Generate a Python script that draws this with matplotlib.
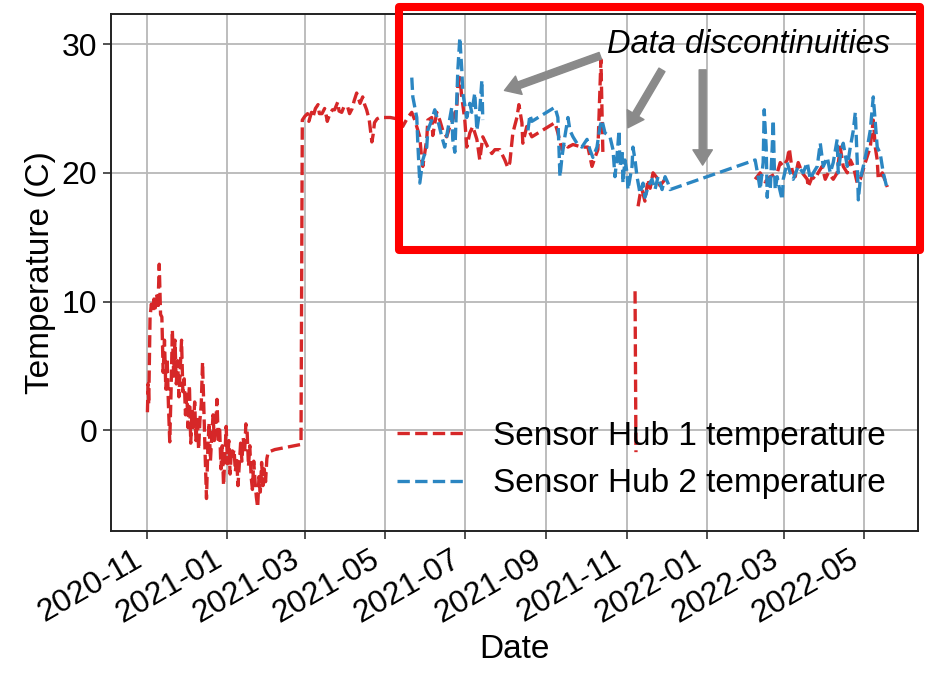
import numpy as np
import pandas as pd
import matplotlib
matplotlib.use("Agg")
import matplotlib.pyplot as plt
import matplotlib.dates as mdates
from matplotlib.patches import Rectangle

plt.rcParams['font.family'] = ['Liberation Sans', 'DejaVu Sans']

start = pd.Timestamp("2020-11-01")
nan = np.nan

# Sensor Hub 1: days since 2020-11-01, temperature in C (nan = logging gap)
hub1_day = [0, 0.5, 1, 2, 3, 4, 5, 6, 7, 8, 9, 10, 11, 12, 13, 14, 15, 16, 17, 18,
            19, 20, 21, 22, 23, 24, 25, 26, 27, 28, 29, 30, 31, 32, 33, 34, 35, 36, 37, 38,
            39, 40, 41, 42, 43, 44, 45, 46, 47, 48, 49, 50, 51, 52, 53, 54, 55, 56, 57, 58,
            59, 60, 61, 62, 63, 64, 65, 66, 67, 68, 69, 70, 71, 72, 73, 74, 75, 76, 77, 78,
            79, 80, 81, 82, 83, 84, 85, 86, 87, 88, 89, 90, 91, 92, 97, 117,
            118, 120, 122, 123, 125, 126, 128, 130, 131, 133, 135, 136.5, 137, 139, 141, 142.6,
            145, 146, 148, 150, 152.6, 154, 156, 157.5, 159.4, 161, 162, 164, 165.5, 167, 169,
            171, 172, 173, 175, 177, 185, 190,
            194.5, 198.3, 201.4, 203.7, 207.5, 209, 209.8, 212.8, 213.6, 216.6, 217.4, 220.4,
            222.7, 225, 228, 230.4, 232.6, 235.7, 236.5, 238, 239.5, 241.8, 243.3, 245.6,
            247.9, 251, 253.2, 255.5, 259.3, 262.4, 264.7, 268.5, 272.3, 274.6, 276.1, 278.4,
            281.5, 283, 285.3, 286, 289, 292.9, 310.5, 312.7, 315.8, 318, 320.4, 324.2, 331,
            335.6, 338.7, 341, 343.2, 345.5, 347, 360,
            371.5, 372.2, 373, 373.8, 375.3, 376.8, 379, 381.4, 383, 385.2, 388.3, 390.5, 394.4, 430,
            463, 466.8, 470.6, 474.5, 479.8, 482.1, 484.4, 487.4, 489, 491.2, 493.5, 495.8,
            498.9, 502.7, 503.4, 506.5, 508.8, 511, 514, 516.4, 518.7, 522.5, 525.5, 527.8,
            530.1, 533.2, 535.5, 537.8, 540.8, 543.1, 546.9, 550.7, 553, 554.5, 556, 556.8,
            559.9, 563.7]
hub1_temp = [1.4, 3.6, 2.0, 8.8, 9.8, 9.2, 10.2, 9.5, 10.6, 9.4, 12.9, 9.0, 8.8, 4.5, 7.0, 3.2,
             5.6, 2.0, -0.9, 3.0, 7.8, 4.2, 7.0, 3.6, 5.4, 2.6, 4.8, 7.0, 3.0, 4.0, 1.2, 2.8,
             0.2, 3.5, -1.0, 1.6, 0.2, 2.2, -0.8, 1.0, -1.5, 0.8, 2.0, 5.3, 1.5, -2.0, -5.3,
             -1.5, 0.6, -2.4, -0.5, 1.2, -0.8, 0.4, 2.4, -1.0, 0.3, -3.0, -1.2, -4.3, -2.0, 0.3,
             -2.6, -0.8, -3.4, -1.4, -2.0, -1.5, -3.2, -2.2, -4.3, -2.6, -1.0, -2.4, -0.6, -1.8,
             0.5, -0.2, -2.8, -1.2, -3.6, -4.6, -2.4, -4.0, -5.2, -6.0, -3.6, -4.8, -2.5, -4.3,
             -3.0, -4.0, -2.2, -1.7, -1.5, -1.1,
             24.1, 24.4, 24.6, 24.0, 24.7, 24.3, 25.0, 25.3, 24.6, 24.6, 25.0, 24.3, 24.0, 24.6,
             24.9, 24.9, 25.5, 24.8, 24.7, 25.2, 25.1, 24.6, 25.0, 25.6, 26.2, 25.7, 25.4, 25.9,
             25.3, 24.9, 24.1, 22.4, 23.0, 23.9, 24.2, 24.3, 24.3, 24.2,
             23.6, 24.3, 24.7, 24.1, 22.8, 21.0, 20.5, 22.6, 24.1, 24.3, 22.9, 24.7,
             24.1, 23.3, 22.8, 23.6, 24.1, 25.1, 26.7, 27.4, 25.9, 24.1, 22.0, 23.1,
             23.6, 22.6, 21.0, 22.8, 22.0, 21.5, 21.8, 21.8, 21.0, 20.4, 20.8, 23.1,
             24.3, 25.3, 23.9, 22.3, 23.6, 22.8, 23.9, 23.1, 21.8, 22.3, 22.0, 22.2, 22.0,
             22.0, 20.5, 21.2, 21.8, 28.8, 21.5, nan,
             10.8, -1.7, nan, 17.4, 18.3, 18.7, 17.8, 19.5, 18.8, 20.0, 19.6, 19.0, 19.5, nan,
             19.5, 20.0, 19.3, 19.7, 20.0, 20.8, 20.5, 21.0, 21.9, 20.2, 19.7, 20.8,
             20.0, 19.5, 18.9, 19.7, 19.5, 20.0, 20.5, 19.5, 20.0, 19.5, 20.0, 22.0,
             20.5, 20.0, 21.0, 20.5, 19.2, 19.5, 20.8, 22.0, 24.1, 22.0, 21.0, 19.5,
             20.0, 18.9]

# Sensor Hub 2
hub2_day = [201.4, 202.2, 205.2, 206, 207.5, 209.8, 212.8, 213.6, 216.6, 218.9, 221.2, 224.3,
            226.5, 228.8, 231.9, 232.6, 234.2, 235.7, 236.5, 238, 239.5, 240.3, 243.3, 245.6,
            247.1, 249.4, 251, 253.2, 254.8, 255.5, 270,
            289.9, 291.4, 292.9, 310.5, 312.7, 314.3, 315.8, 318, 320.4, 321.9, 324.2, 327.2,
            331, 334.9, 337.1, 339.4, 342.5, 344.8, 346.3, 348.6, 352.4, 354.7, 356.2, 357.7,
            359.3, 360, 361.6, 362.3, 363.8, 365.4, 366.1, 369.2, 369.9, 371.5, 373, 375.3,
            377.6, 379.1, 381.4, 384.4, 386.7, 389, 392.1, 394.4, 396.6, 398.2,
            463, 465.3, 466.8, 469.1, 469.9, 471.4, 472.2, 472.9, 474.5, 476, 476.8, 477.5,
            478.3, 479.8, 481.3, 483.6, 484.4, 487.4, 489.7, 492, 495.8, 499.6, 502.7, 505,
            507.3, 510.3, 512.6, 514.9, 518, 520.2, 522.5, 525.5, 526.3, 527.8, 530.1, 533.2,
            535.5, 537.8, 539.3, 540.8, 541.6, 543.1, 545.4, 548.5, 550.7, 553, 554.5, 556,
            558.3, 560.6, 563.7]
hub2_temp = [27.4, 25.9, 24.3, 22.3, 19.2, 21.0, 22.0, 23.3, 24.1, 24.9, 24.1, 22.8,
             22.0, 23.3, 25.1, 22.6, 21.6, 25.7, 28.0, 30.5, 28.0, 26.2, 24.3, 25.4,
             24.7, 26.2, 23.3, 24.9, 27.2, 24.1, nan,
             23.3, 24.5, 24.0, 25.1, 24.3, 19.7, 21.2, 22.8, 24.3, 23.3, 22.8, 22.3,
             22.0, 22.6, 21.8, 21.2, 22.0, 23.6, 24.1, 23.1, 22.8, 21.8, 19.7, 21.2,
             23.3, 20.5, 21.8, 19.2, 21.0, 20.0, 18.7, 20.5, 22.0, 21.0, 19.7, 18.4,
             19.2, 18.1, 18.9, 19.5, 18.7, 19.7, 18.7, 19.7, 19.2, 18.7,
             21.0, 19.7, 18.7, 20.8, 24.9, 22.0, 18.1, 19.5, 18.7, 22.0, 24.1, 20.8,
             18.7, 19.7, 18.9, 17.9, 19.5, 20.8, 20.0, 19.5, 20.5, 20.0, 20.8, 19.5,
             20.0, 20.5, 22.3, 20.5, 21.2, 20.0, 20.8, 22.6, 20.0, 21.2, 22.3, 20.5,
             22.0, 23.3, 24.7, 20.8, 17.9, 19.5, 20.5, 22.0, 23.3, 25.9, 23.9, 22.0,
             21.5, 20.0, 18.7]

hub1_dates = start + pd.to_timedelta(hub1_day, unit="D")
hub2_dates = start + pd.to_timedelta(hub2_day, unit="D")

fig = plt.figure(figsize=(9.3, 6.76), dpi=100)
ax = fig.add_axes([0.119, 0.2145, 0.868, 0.7645])

ax.plot(hub1_dates, hub1_temp, '--', color='#d62728', lw=2.4, label='Sensor Hub 1 temperature')
ax.plot(hub2_dates, hub2_temp, '--', color='#2b86c2', lw=2.4, label='Sensor Hub 2 temperature')

ax.set_xlim(start - pd.Timedelta(days=28), start + pd.Timedelta(days=587))
ax.xaxis.set_major_locator(mdates.MonthLocator(bymonth=[1, 3, 5, 7, 9, 11]))
ax.xaxis.set_major_formatter(mdates.DateFormatter('%Y-%m'))
ax.set_yticks([0, 10, 20, 30])
ax.tick_params(labelsize=23, length=6, width=1.2, color='#333333')
plt.setp(ax.get_xticklabels(), rotation=30, ha='right')
ax.grid(True, color='#b8b8b8', lw=1.3)
for s in ax.spines.values():
    s.set_color('#222222')
    s.set_linewidth(1.4)

ax.set_xlabel('Date', fontsize=24)
ax.set_ylabel('Temperature (C)', fontsize=24)
ax.legend(loc='lower right', fontsize=24, frameon=False, handlelength=2.0,
          handletextpad=0.9, borderaxespad=0.55, labelspacing=0.5)

# callout for the logging gaps
gray = '#8a8a8a'
ax.text(pd.Timestamp("2022-02-02"), 30.0, 'Data discontinuities', fontsize=23.5,
        style='italic', ha='center', va='center')
arrows = [("2021-10-12", 29.1, "2021-07-31", 26.4),
          ("2021-11-28", 28.0, "2021-11-02", 23.5),
          ("2021-12-29", 28.0, "2021-12-29", 20.6)]
for d0, t0, d1, t1 in arrows:
    ax.annotate('', xy=(pd.Timestamp(d1), t1), xytext=(pd.Timestamp(d0), t0),
                arrowprops=dict(facecolor=gray, edgecolor=gray, width=5,
                                headwidth=14, headlength=11))

box = Rectangle((399 / 930, 1 - 250 / 676), 521 / 930, 243 / 676, transform=fig.transFigure,
                fill=False, edgecolor='#ff0000', lw=5.8, joinstyle='round', clip_on=False)
fig.patches.append(box)

fig.savefig('out.png', dpi=100)
